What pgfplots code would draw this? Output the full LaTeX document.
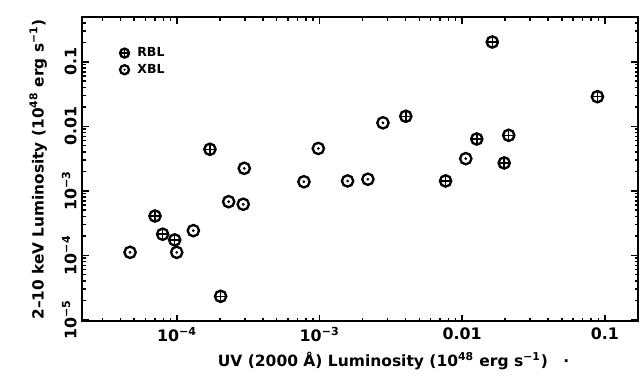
\documentclass[border=0pt]{standalone}
\usepackage{fontspec}
\setmainfont{DejaVu Sans}
\usepackage{pgfplots}
\pgfplotsset{compat=1.18}
\usetikzlibrary{calc}
\pgfdeclareplotmark{myodot}{%
  \pgfsetlinewidth{1.4pt}%
  \pgfpathcircle{\pgfpointorigin}{\pgfplotmarksize}\pgfusepathqstroke
  \pgfpathcircle{\pgfpointorigin}{0.27\pgfplotmarksize}\pgfusepathqfill}
\pgfdeclareplotmark{myoplus}{%
  \pgfsetlinewidth{1.4pt}%
  \pgfpathcircle{\pgfpointorigin}{\pgfplotmarksize}\pgfusepathqstroke
  \pgfsetlinewidth{0.9pt}%
  \pgfpathmoveto{\pgfqpoint{-\pgfplotmarksize}{0pt}}\pgfpathlineto{\pgfqpoint{\pgfplotmarksize}{0pt}}%
  \pgfpathmoveto{\pgfqpoint{0pt}{-\pgfplotmarksize}}\pgfpathlineto{\pgfqpoint{0pt}{\pgfplotmarksize}}%
  \pgfusepathqstroke}

\pgfplotstableread{
x y
7.0e-5 4.06e-4
7.92e-5 2.12e-4
9.62e-5 1.73e-4
1.70e-4 4.40e-3
2.02e-4 2.31e-5
4.02e-3 1.429e-2
1.626e-2 0.2027
8.88e-2 2.876e-2
1.265e-2 6.35e-3
2.12e-2 7.25e-3
1.97e-2 2.70e-3
7.65e-3 1.42e-3
}\rbl
\pgfplotstableread{
x y
4.68e-5 1.11e-4
9.94e-5 1.11e-4
1.30e-4 2.41e-4
2.30e-4 6.78e-4
2.91e-4 6.18e-4
2.96e-4 2.23e-3
7.76e-4 1.38e-3
9.79e-4 4.53e-3
1.57e-3 1.42e-3
2.18e-3 1.51e-3
2.78e-3 1.132e-2
1.059e-2 3.15e-3
}\xbl

\begin{document}
\begin{tikzpicture}
\begin{axis}[
  scale only axis,
  width=333.3pt, height=182.4pt,
  xmode=log, ymode=log,
  xmin=2.17e-5, xmax=0.171,
  ymin=9.4e-6, ymax=0.486,
  axis line style={line width=1.2pt},
  tick pos=both,
  tick align=inside,
  major tick length=4pt,
  minor tick length=2pt,
  every tick/.style={black, line width=0.9pt},
  xtick={1e-4,1e-3,1e-2,1e-1},
  xticklabels={10\textsuperscript{−4},10\textsuperscript{−3},0.01,0.1},
  minor xtick={3e-5,4e-5,5e-5,6e-5,7e-5,8e-5,9e-5,
    2e-4,3e-4,4e-4,5e-4,6e-4,7e-4,8e-4,9e-4,
    2e-3,3e-3,4e-3,5e-3,6e-3,7e-3,8e-3,9e-3,
    2e-2,3e-2,4e-2,5e-2,6e-2,7e-2,8e-2,9e-2},
  ytick={1e-5,1e-4,1e-3,1e-2,1e-1},
  yticklabels={10\textsuperscript{−5},10\textsuperscript{−4},10\textsuperscript{−3},0.01,0.1},
  minor ytick={2e-5,3e-5,4e-5,5e-5,6e-5,7e-5,8e-5,9e-5,
    2e-4,3e-4,4e-4,5e-4,6e-4,7e-4,8e-4,9e-4,
    2e-3,3e-3,4e-3,5e-3,6e-3,7e-3,8e-3,9e-3,
    2e-2,3e-2,4e-2,5e-2,6e-2,7e-2,8e-2,9e-2,
    0.2,0.3,0.4},
  ticklabel style={font=\fontsize{9.5}{11}\selectfont\bfseries},
  yticklabel style={rotate=90, anchor=south},
  xlabel={UV (2000 Å) Luminosity (10\textsuperscript{48} erg s\textsuperscript{−1})\quad·},
  ylabel={2–10 keV Luminosity (10\textsuperscript{48} erg s\textsuperscript{−1})},
  xlabel style={font=\fontsize{9.3}{11}\selectfont\bfseries, yshift=1pt, xshift=20pt},
  ylabel style={font=\fontsize{9.2}{11}\selectfont\bfseries, yshift=2pt},
  legend style={at={(0.058,0.925)}, anchor=north west, draw=none, fill=none,
    font=\fontsize{7.5}{9}\selectfont\bfseries, row sep=-1pt},
  legend image post style={mark size=2.7pt},
  legend cell align=left,
]
\addplot[only marks, mark=myoplus, mark size=3.4pt] table[x=x,y=y] {\rbl};
\addlegendentry{\hspace{3pt}RBL}
\addplot[only marks, mark=myodot, mark size=3.4pt, fill=black] table[x=x,y=y] {\xbl};
\addlegendentry{\hspace{3pt}XBL}
\end{axis}
\pgfresetboundingbox
\path ($(current axis.south west)+(-49.5pt,-33.9pt)$) rectangle ($(current axis.north east)+(1.2pt,10.5pt)$);
\end{tikzpicture}
\end{document}
